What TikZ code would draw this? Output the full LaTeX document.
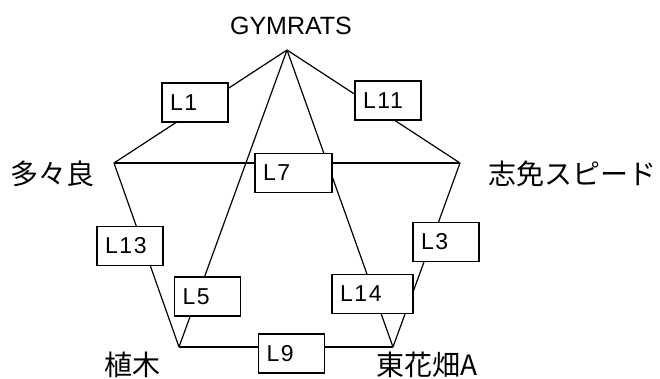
\documentclass[tikz,border=0pt]{standalone}
\usepackage{fontspec}
\setmainfont{Liberation Sans}
\newfontfamily\jpfont{Noto Sans CJK JP}
\newfontfamily\boxfont[LetterSpace=7]{Liberation Sans}
\tikzstyle{lbox} = [rectangle, draw=black, fill=white, line width=1.2pt, minimum width=66pt, minimum height=39pt, text width=50pt, inner sep=8pt, align=left, font=\boxfont\fontsize{23}{25}\selectfont]
\tikzstyle{team} = [inner sep=0pt, font=\jpfont\fontsize{28}{30}\selectfont]
\tikzstyle{line} = [line width=1.2pt, line join=miter]

\begin{document}
\begin{tikzpicture}[x=1pt, y=-1pt]
\useasboundingbox (0,0) rectangle (660,378);

%% VERTICES

\coordinate (gym) at (287,50);
\coordinate (tatara) at (114,163);
\coordinate (shime) at (460,163);
\coordinate (ueki) at (179,347);
\coordinate (higashi) at (393,347);

%% LINES

\draw [line] (gym) -- (tatara);
\draw [line] (gym) -- (shime);
\draw [line] (tatara) -- (shime);
\draw [line] (tatara) -- (ueki);
\draw [line] (shime) -- (higashi);
\draw [line] (ueki) -- (higashi);
\draw [line] (gym) -- (ueki);
\draw [line] (gym) -- (higashi);

%% NAMES

\node (gym_label) [inner sep=0pt, font=\fontsize{25}{27}\selectfont] at (291,26) {GYMRATS};
\node (tatara_label) [team] at (52,174) {多々良};
\node (shime_label) [team] at (572,174) {志免スピード};
\node (ueki_label) [team] at (132,365) {植木};
\node (higashi_label) [team] at (427,365) {東花畑A};

%% BOXES

\node (l1) [lbox] at (195,102.5) {L1};
\node (l11) [lbox] at (388,100.5) {L11};
\node (l7) [lbox, minimum width=77pt, text width=61pt] at (293.5,173) {L7};
\node (l13) [lbox] at (130,246) {L13};
\node (l5) [lbox] at (207.5,296.5) {L5};
\node (l3) [lbox] at (446,242) {L3};
\node (l14) [lbox, minimum width=81pt, text width=65pt] at (372.5,294) {L14};
\node (l9) [lbox] at (291.5,353.5) {L9};

\end{tikzpicture}
\end{document}
